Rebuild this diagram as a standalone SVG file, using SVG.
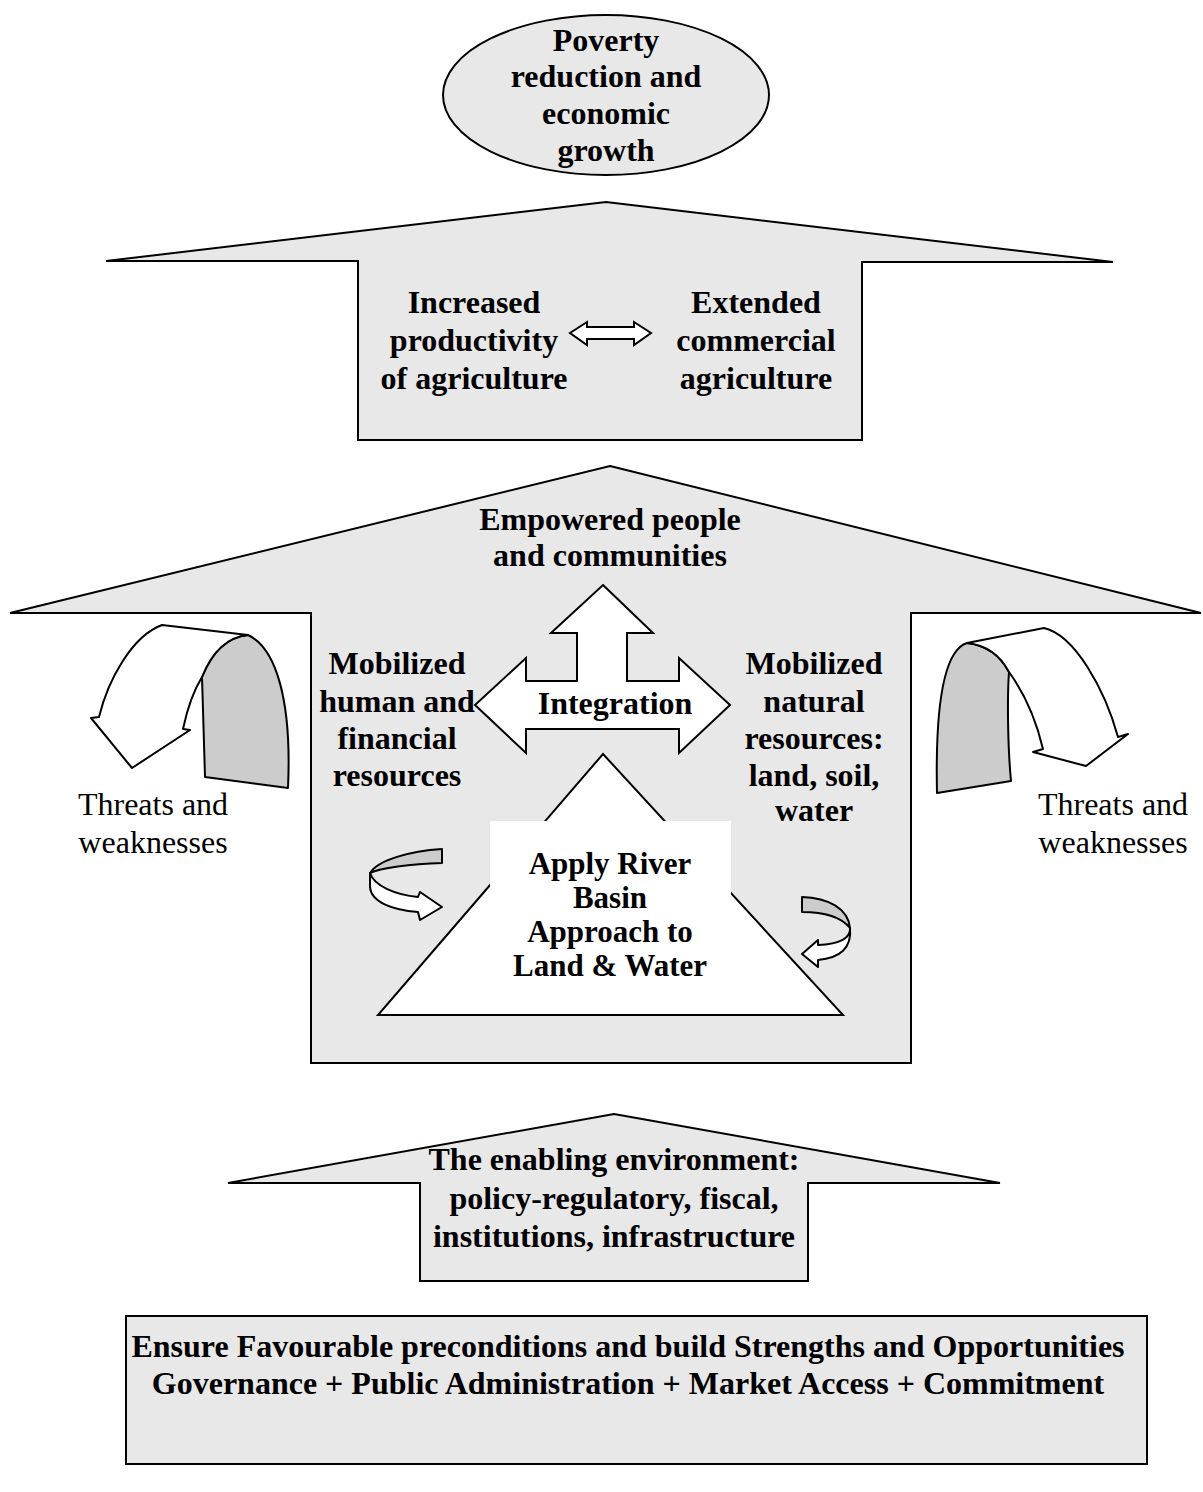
<svg xmlns="http://www.w3.org/2000/svg" width="1203" height="1492" viewBox="0 0 1203 1492">
  <style>
    .shape { fill: #e8e8e8; stroke: #000; stroke-width: 2; stroke-linejoin: miter; }
    .white { fill: #ffffff; stroke: #000; stroke-width: 2; stroke-linejoin: miter; }
    .band { fill: #cccccc; stroke: #000; stroke-width: 2; stroke-linejoin: round; }
    .wband { fill: #ffffff; stroke: #000; stroke-width: 2; stroke-linejoin: round; }
    .t { font-family: "Liberation Serif", "Times New Roman", serif; font-size: 32px; font-weight: bold; text-anchor: middle; fill: #000; }
    .tc { font-family: "Liberation Serif", "Times New Roman", serif; font-size: 31px; font-weight: bold; text-anchor: middle; fill: #000; }
    .r { font-family: "Liberation Serif", "Times New Roman", serif; font-size: 32px; text-anchor: middle; fill: #000; }
  </style>
  <rect width="1203" height="1492" fill="#ffffff"/>

  <!-- Goal ellipse -->
  <g id="goal">
    <ellipse class="shape" cx="606" cy="95" rx="163" ry="80"/>
    <text class="t" x="606" y="51">Poverty</text>
    <text class="t" x="606" y="87">reduction and</text>
    <text class="t" x="606" y="124">economic</text>
    <text class="t" x="606" y="161">growth</text>
  </g>

  <!-- Agriculture arrow -->
  <g id="agriculture">
    <polygon class="shape" points="606,202 1113,262 862,262 862,440 358,440 358,261 106,261"/>
    <text class="t" x="474" y="313">Increased</text>
    <text class="t" x="474" y="351">productivity</text>
    <text class="t" x="474" y="389">of agriculture</text>
    <text class="t" x="756" y="313">Extended</text>
    <text class="t" x="756" y="351">commercial</text>
    <text class="t" x="756" y="389">agriculture</text>
    <polygon class="white" points="570,333 587,322 587,327 634,327 634,322 651,333 634,345 634,339 587,339 587,345"/>
  </g>

  <!-- Empowerment arrow -->
  <g id="empowerment">
    <polygon class="shape" points="610,466 1201,613 911,613 911,1063 311,1063 311,613 10,613"/>
    <text class="t" x="610" y="530">Empowered people</text>
    <text class="t" x="610" y="566">and communities</text>
    <text class="t" x="397" y="674">Mobilized</text>
    <text class="t" x="397" y="712">human and</text>
    <text class="t" x="397" y="749">financial</text>
    <text class="t" x="397" y="786">resources</text>
    <text class="t" x="814" y="674">Mobilized</text>
    <text class="t" x="814" y="712">natural</text>
    <text class="t" x="814" y="749">resources:</text>
    <text class="t" x="814" y="786">land, soil,</text>
    <text class="t" x="814" y="821">water</text>
  </g>

  <!-- Integration arrow -->
  <g id="integration">
    <polygon class="white" points="603,585 653,633 627,633 627,681 679,681 679,658 730,705 679,753 679,729 526,729 526,753 475,705 526,658 526,681 577,681 577,633 551,633"/>
    <text class="t" x="615" y="714">Integration</text>
  </g>

  <!-- River basin approach -->
  <g id="river-basin">
    <polygon class="white" points="603,754 843,1015 378,1015"/>
    <rect x="490" y="821" width="241" height="165" fill="#ffffff"/>
    <text class="tc" x="610" y="874">Apply River</text>
    <text class="tc" x="610" y="908">Basin</text>
    <text class="tc" x="610" y="942">Approach to</text>
    <text class="tc" x="610" y="976">Land &amp; Water</text>
  </g>

  <!-- Threats and weaknesses, left -->
  <g id="threats-left">
    <path class="band" d="M202,677 C212,652 228,637 248,635 C276,648 292,700 288,788 L205,777 C204,740 203,705 202,677 Z"/>
    <path class="wband" d="M248,635 L162,625 C132,636 108,680 99,717 L91,718 L132,768 L190,730 L183,729 C187,710 194,690 202,677 C212,652 228,637 248,635 Z"/>
    <text class="r" x="153" y="815">Threats and</text>
    <text class="r" x="153" y="853">weaknesses</text>
  </g>

  <!-- Threats and weaknesses, right -->
  <g id="threats-right">
    <path class="band" d="M967,643 C945,650 935,700 937,793 L1011,781 C1008,750 1007,700 1009,672 C1000,655 985,645 967,643 Z"/>
    <path class="wband" d="M967,643 L1044,628 C1075,635 1105,690 1118,737 L1128,734 L1086,766 L1033,752 L1043,749 C1035,715 1022,690 1009,672 C1000,655 985,645 967,643 Z"/>
    <text class="r" x="1113" y="815">Threats and</text>
    <text class="r" x="1113" y="853">weaknesses</text>
  </g>

  <!-- Small cycle arrows -->
  <g id="cycle-left">
    <path class="band" d="M442,849 C410,851 378,860 370,873 C380,868 410,864 442,863 Z"/>
    <path class="wband" d="M370,873 C374,886 396,895 418,897 L420,892 L442,907 L420,920 L418,912 C392,910 371,902 370,887 Z"/>
  </g>
  <g id="cycle-right">
    <path class="band" d="M802,897 C828,898 848,908 850,928 C842,918 825,912 802,912 Z"/>
    <path class="wband" d="M850,928 C851,938 840,944 818,945 L818,940 L802,954 L818,967 L818,960 C840,958 852,948 850,928 Z"/>
  </g>

  <!-- Enabling environment arrow -->
  <g id="enabling">
    <polygon class="shape" points="614,1114 1000,1183 808,1183 808,1281 420,1281 420,1183 228,1183"/>
    <text class="t" x="614" y="1170">The enabling environment:</text>
    <text class="t" x="614" y="1209">policy-regulatory, fiscal,</text>
    <text class="t" x="614" y="1247">institutions, infrastructure</text>
  </g>

  <!-- Preconditions box -->
  <g id="preconditions">
    <rect class="shape" x="126" y="1316" width="1021" height="148"/>
    <text class="t" x="628" y="1357">Ensure Favourable preconditions and build Strengths and Opportunities</text>
    <text class="t" x="628" y="1394">Governance + Public Administration + Market Access + Commitment</text>
  </g>
</svg>
